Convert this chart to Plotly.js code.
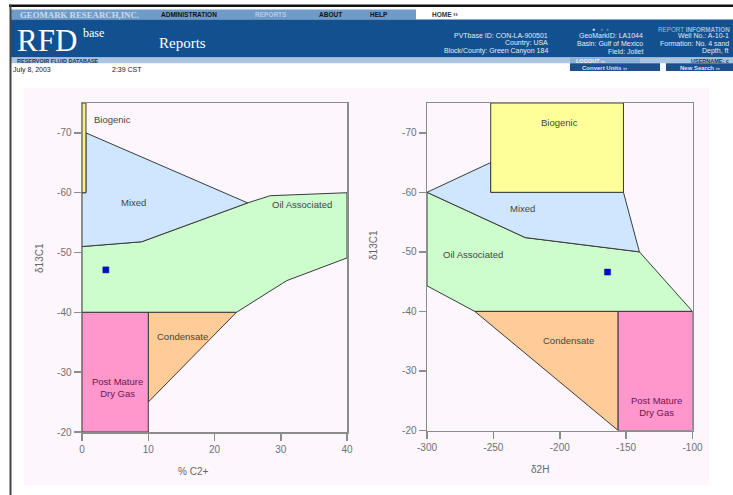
<!DOCTYPE html>
<html><head><meta charset="utf-8">
<script src="https://cdn.plot.ly/plotly-3.0.1.min.js"></script>
<style>html,body{margin:0;padding:0;background:#fff;overflow:hidden}#chart{width:733px;height:495px}</style>
</head><body><div id="chart"></div>
<script>
// ---------- DATA ----------
// Left chart: % C2+ (x) vs δ13C1 (y)
const leftBiogenicX = [0, 0.6, 0.6, 0, 0];
const leftBiogenicY = [-75, -75, -60, -60, -75];
const leftMixedX = [0.6, 25, 9, 0, 0, 0.6, 0.6];
const leftMixedY = [-70, -58.3, -51.8, -51, -60, -60, -70];
const leftOilX = [0, 9, 25, 28.4, 40, 40, 30.9, 23.3, 0, 0];
const leftOilY = [-51, -51.8, -58.3, -59.5, -60, -49.1, -45.3, -40, -40, -51];
const leftCondX = [10, 23.3, 10, 10];
const leftCondY = [-40, -40, -25, -40];
const leftDryX = [0, 10, 10, 0, 0];
const leftDryY = [-40, -40, -20, -20, -40];
const leftSampleX = [3.6];
const leftSampleY = [-47.1];
const leftLabelText = ['Biogenic', 'Mixed', 'Oil Associated', 'Condensate', 'Post Mature<br>Dry Gas'];
const leftLabelX = [4.6, 7.7, 33.2, 15.2, 5.3];
const leftLabelY = [-72.2, -58.3, -58.1, -35.9, -27.4];
const leftXTicks = [0, 10, 20, 30, 40];
const leftXTickText = ['0', '10', '20', '30', '40'];

// Right chart: δ2H (x) vs δ13C1 (y)
const rightBiogenicX = [-252, -152, -152, -252, -252];
const rightBiogenicY = [-75, -75, -60, -60, -75];
const rightMixedX = [-300, -252, -252, -152, -140, -226, -300];
const rightMixedY = [-60, -65, -60, -60, -50, -52.4, -60];
const rightOilX = [-300, -226, -140, -100, -264, -300, -300];
const rightOilY = [-60, -52.4, -50, -40, -40, -44.3, -60];
const rightCondX = [-264, -156, -156, -264];
const rightCondY = [-40, -40, -20, -40];
const rightDryX = [-156, -100, -100, -156, -156];
const rightDryY = [-40, -40, -20, -20, -40];
const rightSampleX = [-164];
const rightSampleY = [-46.6];
const rightLabelText = ['Biogenic', 'Mixed', 'Oil Associated', 'Condensate', 'Post Mature<br>Dry Gas'];
const rightLabelX = [-200, -228, -265, -193.5, -127];
const rightLabelY = [-71.8, -57.2, -49.5, -35.1, -24];
const rightXTicks = [-300, -250, -200, -150, -100];
const rightXTickText = ['-300', '-250', '-200', '-150', '-100'];

const yTicks = [-70, -60, -50, -40, -30, -20];
const yTickText = ['-70', '-60', '-50', '-40', '-30', '-20'];

// ---------- HELPERS ----------
const W = 733, H = 495;
const px = v => v / W;
const py = v => 1 - v / H;

const colors = {
  bio: '#f8ee8a', mixed: '#cfe6ff', oil: '#cdfccd', cond: '#ffcc99', dry: '#ff96cc'
};
function poly(x, y, fill, xa, ya) {
  return {type: 'scatter', mode: 'lines', x: x, y: y, fill: 'toself', fillcolor: fill,
    line: {color: '#3a3a3a', width: 1}, xaxis: xa, yaxis: ya, hoverinfo: 'skip', showlegend: false};
}
const traces = [
  poly(leftOilX, leftOilY, colors.oil, 'x', 'y'),
  poly(leftMixedX, leftMixedY, colors.mixed, 'x', 'y'),
  poly(leftBiogenicX, leftBiogenicY, colors.bio, 'x', 'y'),
  poly(leftCondX, leftCondY, colors.cond, 'x', 'y'),
  poly(leftDryX, leftDryY, colors.dry, 'x', 'y'),
  poly(rightOilX, rightOilY, colors.oil, 'x2', 'y2'),
  poly(rightMixedX, rightMixedY, colors.mixed, 'x2', 'y2'),
  poly(rightBiogenicX, rightBiogenicY, '#ffff99', 'x2', 'y2'),
  poly(rightCondX, rightCondY, colors.cond, 'x2', 'y2'),
  poly(rightDryX, rightDryY, colors.dry, 'x2', 'y2'),
  {type: 'scatter', mode: 'markers', x: leftSampleX, y: leftSampleY, xaxis: 'x', yaxis: 'y',
   marker: {symbol: 'square', size: 6, color: '#0010d0', line: {color: '#000080', width: 0.5}}, showlegend: false},
  {type: 'scatter', mode: 'markers', x: rightSampleX, y: rightSampleY, xaxis: 'x2', yaxis: 'y2',
   marker: {symbol: 'square', size: 6, color: '#0010d0', line: {color: '#000080', width: 0.5}}, showlegend: false}
];

const axisCommon = {
  showline: true, mirror: true, linecolor: '#8c8c8c', linewidth: 1.5,
  ticks: 'outside', ticklen: 7, tickwidth: 1.5, tickcolor: '#8c8c8c',
  showgrid: false, zeroline: false, fixedrange: true, tickmode: 'array',
  tickfont: {family: 'Liberation Sans, Arial, sans-serif', size: 10, color: '#707070'}
};

const annotations = [];
function lbl(texts, xs, ys, xr, yr) {
  texts.forEach((t, i) => {
    const dry = t.indexOf('Dry') >= 0;
    annotations.push({xref: xr, yref: yr, x: xs[i], y: ys[i], text: t, showarrow: false,
      font: {family: 'Liberation Sans, Arial, sans-serif', size: 9.5, color: dry ? '#6a1650' : '#444'}});
  });
}
lbl(leftLabelText, leftLabelX, leftLabelY, 'x', 'y');
lbl(rightLabelText, rightLabelX, rightLabelY, 'x2', 'y2');

function txt(text, x, y, opts) {
  opts = opts || {};
  annotations.push({xref: 'paper', yref: 'paper', x: px(x), y: py(y), text: text, showarrow: false,
    xanchor: opts.xa || 'left', yanchor: 'middle', textangle: opts.angle || 0,
    font: {family: opts.family || 'Liberation Sans, Arial, sans-serif', size: opts.size || 7,
      color: opts.color || '#fff', weight: opts.weight || 'normal'}});
}
// axis titles
txt('δ13C1', 39, 258, {xa: 'center', angle: -90, size: 10, color: '#666'});
txt('δ13C1', 373, 245, {xa: 'center', angle: -90, size: 10, color: '#666'});
txt('% C2+', 193, 471, {xa: 'center', size: 10, color: '#666'});
txt('δ2H', 540, 469, {xa: 'center', size: 10, color: '#666'});

// header texts
const serif = 'Liberation Serif, Times New Roman, serif';
txt('GEOMARK RESEARCH,INC.', 18, 15, {family: serif, size: 8.8, color: '#c8dcf0', weight: 'bold'});
txt('ADMINISTRATION', 159, 15, {size: 6.5, color: '#111', weight: 'bold'});
txt('REPORTS', 253, 15, {size: 6.5, color: '#b0cdea', weight: 'bold'});
txt('ABOUT', 317, 15, {size: 6.5, color: '#111', weight: 'bold'});
txt('HELP', 368, 15, {size: 6.5, color: '#111', weight: 'bold'});
txt('HOME ››', 430, 15, {size: 6.5, color: '#333', weight: 'bold'});
txt('RFD', 15, 41, {family: serif, size: 31, color: '#fff'});
txt('base', 81, 33, {family: serif, size: 12, color: '#fff'});
txt('Reports', 157, 43, {family: serif, size: 15, color: '#fff'});
txt('PVTbase ID: CON-LA-900501', 550, 35.5, {xa: 'right', color: '#e4ecf6'});
txt('Country: USA', 550, 43.3, {xa: 'right', color: '#e4ecf6'});
txt('Block/County: Green Canyon 184', 550, 51, {xa: 'right', color: '#e4ecf6'});
txt('GeoMarkID: LA1044', 645, 35.5, {xa: 'right', color: '#e4ecf6'});
txt('Basin: Gulf of Mexico', 645, 43.3, {xa: 'right', color: '#e4ecf6'});
txt('Field: Joliet', 645, 51, {xa: 'right', color: '#e4ecf6'});
txt('●', 590, 29, {size: 5, color: '#dde8f4'});
txt('●  ●', 598, 29, {size: 5, color: '#5a86b8'});
txt('REPORT <b>INFORMATION</b>', 732, 29, {xa: 'right', size: 6.3, color: '#9dbde0'});
txt('Well No.: A-10-1', 731, 35.5, {xa: 'right', color: '#e4ecf6'});
txt('Formation: No. 4 sand', 731, 43.3, {xa: 'right', color: '#e4ecf6'});
txt('Depth, ft', 731, 51, {xa: 'right', color: '#e4ecf6'});
txt('RESERVOIR FLUID DATABASE', 15, 60.5, {size: 5.5, color: '#1b2f55', weight: 'bold'});
txt('LOGOUT ››', 574, 60.5, {size: 5.5, color: '#eef4fa', weight: 'bold'});
txt('USERNAME: c', 731, 60.5, {xa: 'right', size: 5.5, color: '#1b2f55', weight: 'bold'});
txt('Convert Units ››', 580, 67.5, {size: 6, color: '#d8e4f2', weight: 'bold'});
txt('New Search ››', 678, 67.5, {size: 6, color: '#d8e4f2', weight: 'bold'});
txt('July 8, 2003', 11, 69.5, {size: 7, color: '#222'});
txt('2:39 CST', 110, 69.5, {size: 7, color: '#222'});

function rect(x0, y0, x1, y1, fill, layer) {
  return {type: 'rect', xref: 'paper', yref: 'paper', x0: px(x0), x1: px(x1), y0: py(y1), y1: py(y0),
    fillcolor: fill, line: {width: 0}, layer: layer || 'below'};
}
const shapes = [
  rect(24, 88, 709, 485, '#fdf6fd'),
  rect(9, 4.5, 733, 7, '#111'),
  rect(10, 9.5, 416, 19.5, '#6f9bc8'),
  rect(10, 19.5, 733, 57.5, '#13508f'),
  rect(10, 57.5, 733, 63.3, '#abc5e0'),
  rect(570, 57.5, 640, 63.3, '#8fb0d6'),
  rect(570, 63.3, 660, 71, '#1d4f8c'),
  rect(666, 63.3, 733, 71, '#1d4f8c'),
  rect(9.5, 4.5, 11.5, 495, '#444')
];

const layout = {
  width: W, height: H, margin: {l: 0, r: 0, t: 0, b: 0},
  paper_bgcolor: '#ffffff', plot_bgcolor: 'rgba(0,0,0,0)', showlegend: false,
  xaxis: Object.assign({}, axisCommon, {domain: [px(82), px(347)], range: [0, 40], tickvals: leftXTicks, ticktext: leftXTickText, anchor: 'y'}),
  yaxis: Object.assign({}, axisCommon, {domain: [py(432), py(103)], range: [-20, -75], tickvals: yTicks, ticktext: yTickText, anchor: 'x'}),
  xaxis2: Object.assign({}, axisCommon, {domain: [px(427), px(692.5)], range: [-300, -100], tickvals: rightXTicks, ticktext: rightXTickText, anchor: 'y2'}),
  yaxis2: Object.assign({}, axisCommon, {domain: [py(430.5), py(103)], range: [-20, -75], tickvals: yTicks, ticktext: yTickText, anchor: 'x2'}),
  shapes: shapes, annotations: annotations
};
Plotly.newPlot('chart', traces, layout, {displayModeBar: false, staticPlot: true});
</script></body></html>
